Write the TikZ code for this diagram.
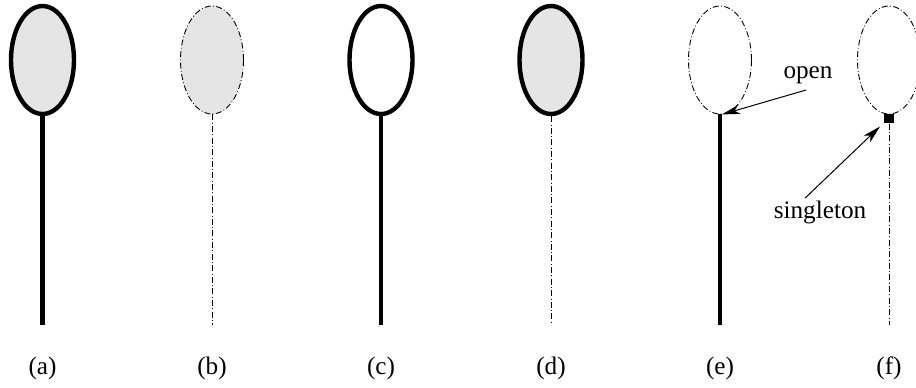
\documentclass[tikz,border=0pt]{standalone}
\usepackage{fontspec}
\setmainfont{Liberation Serif}
\usetikzlibrary{shapes.geometric,arrows.meta}
\begin{document}
\begin{tikzpicture}[x=0.5pt,y=-0.5pt,
  loop/.style={ellipse,inner sep=0pt,minimum width=31.5pt,minimum height=54pt},
  heavy/.style={line width=2.2pt},
  dd/.style={line width=0.45pt,dash pattern=on 3pt off 1.2pt on 0.4pt off 1.2pt},
  shade/.style={fill=black!10},
  arr/.style={line width=0.5pt,-{Stealth[length=9pt,width=4.6pt,inset=2.5pt]}},
  lab/.style={font=\fontsize{12.6}{14}\selectfont,inner sep=1pt}]
\useasboundingbox (0,0) rectangle (916,387);
% ellipses
\node[loop,heavy,draw,shade] (ea) at (42.5,60) {};
\node[loop,dd,draw,shade] (eb) at (212,60) {};
\node[loop,heavy,draw] (ec) at (381,60) {};
\node[loop,heavy,draw,shade] (ed) at (551,60) {};
\node[loop,dd,draw] (ee) at (720,60) {};
\node[loop,dd,draw] (ef) at (889,60) {};
% bottoms
\coordinate (ba) at (42.5,325);
\coordinate (bb) at (212,325);
\coordinate (bc) at (381,325);
\coordinate (bd) at (551,325);
\coordinate (be) at (720,325);
\coordinate (bf) at (889,325);
% stems
\draw[heavy] (ea.south) -- (ba);
\draw[dd] (eb.south) -- (bb);
\draw[heavy] (ec.south) -- (bc);
\draw[dd] (ed.south) -- (bd);
\draw[heavy] (ee.south) -- (be);
\node[fill=black,inner sep=0pt,minimum size=4.6pt] (sq) at (889,118.5) {};
\draw[dd] (sq.south) -- (bf);
% annotations
\node[lab] (open) at (808,75) {open};
\draw[arr] ([xshift=-1pt,yshift=-2pt]open.south) -- ([xshift=1pt]ee.south);
\node[lab] (sing) at (820,212) {singleton};
\draw[arr] ([xshift=-7.5pt]sing.north) -- ([xshift=-2pt,yshift=-1.5pt]sq.south west);
% labels
\node[lab] (la) at (42.5,368) {(a)};
\node[lab] (lb) at (212,368) {(b)};
\node[lab] (lc) at (381,368) {(c)};
\node[lab] (ld) at (551,368) {(d)};
\node[lab] (le) at (720,368) {(e)};
\node[lab] (lf) at (889,368) {(f)};
\end{tikzpicture}
\end{document}
